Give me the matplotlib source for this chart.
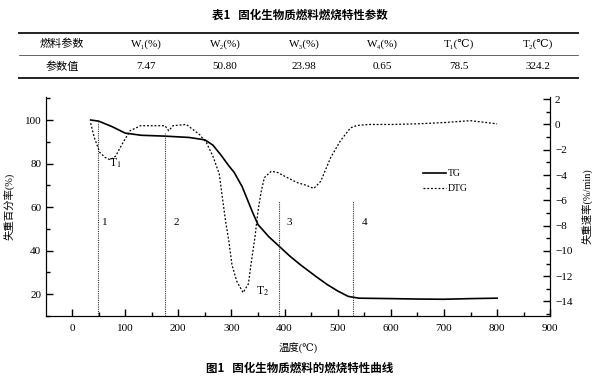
import matplotlib
matplotlib.use("Agg")
import matplotlib.pyplot as plt
from matplotlib.lines import Line2D
from matplotlib.ticker import MultipleLocator

plt.rcParams['font.family'] = ['Liberation Serif', 'DejaVu Serif', 'Noto Sans CJK SC']
plt.rcParams['mathtext.fontset'] = 'stix'

# table 1
tab_title = '表1   固化生物质燃料燃烧特性参数'
tab_head = ['燃料参数', 'W₁(%)', 'W₂(%)', 'W₃(%)', 'W₄(%)', 'T₁(℃)', 'T₂(℃)']
tab_vals = ['参数值', '7.47', '50.80', '23.98', '0.65', '78.5', '324.2']

# TG curve (left axis, %)
temp_tg = [35, 50, 75, 100, 130, 175, 220, 250, 265, 280, 295, 305, 320, 340, 350,
           370, 390, 410, 430, 460, 480, 500, 520, 540, 600, 650, 700, 750, 800]
tg = [100, 99.5, 97, 94, 93, 92.6, 92, 90.9, 88.5, 84, 79, 76, 69.5, 57.5, 52,
      46.5, 42, 37.5, 33.5, 28, 24.5, 21.5, 19, 18.2, 18, 17.8, 17.7, 18.0, 18.2]

# DTG curve (right axis, %/min)
temp_dtg = [35, 42, 52, 62, 72, 82, 95, 109, 129, 150, 175, 182, 190, 215, 240, 253,
            265, 277, 283, 289, 295, 301, 310, 322, 332, 337, 344, 350, 356, 362, 375,
            387, 405, 424, 440, 455, 468, 487, 505, 524, 536, 560, 600, 650, 700, 750, 800]
dtg = [0.1, -1.05, -2.2, -2.6, -2.8, -2.5, -1.5, -0.5, -0.1, -0.1, -0.1, -0.5, -0.1, 0.0,
       -0.8, -1.45, -2.5, -3.9, -5.8, -7.65, -9.2, -11.1, -12.4, -13.3, -12.6, -11.0,
       -9.0, -6.85, -5.3, -4.2, -3.7, -3.8, -4.2, -4.6, -4.8, -5.06, -4.5, -2.6, -1.3,
       -0.27, -0.08, 0.0, 0.0, 0.05, 0.15, 0.3, 0.05]

# stage boundaries
stage_x = [48, 175, 389, 528]
stage_top = [99, 94, 63, 63]
stage_lab = ['1', '2', '3', '4']
stage_lab_x = [61, 196, 408, 550]

fig = plt.figure(figsize=(6, 3.84), dpi=100)

# ---- table
fig.text(0.5, 0.961, tab_title, ha='center', va='center', fontsize=8.3,
         fontweight='bold', family=['Noto Sans CJK SC', 'DejaVu Sans'])
col_x = [62, 146, 225, 304, 382, 459, 538]
for cx, h, v in zip(col_x, tab_head, tab_vals):
    fig.text(cx / 600, 0.885, h, ha='center', va='center', fontsize=8)
    fig.text(cx / 600, 0.826, v, ha='center', va='center', fontsize=8)
for yy, lw in [(0.914, 1.4), (0.857, 0.5), (0.797, 1.4)]:
    fig.add_artist(Line2D([0.032, 0.963], [yy, yy], transform=fig.transFigure,
                          color='#222222', lw=lw))

# ---- chart
ax = fig.add_axes([0.0767, 0.177, 0.8403, 0.570])
ax2 = ax.twinx()

l1, = ax.plot(temp_tg, tg, color='black', lw=1.2, label='TG')
l2, = ax2.plot(temp_dtg, dtg, color='black', lw=0.9, ls=(0, (1.5, 1.5)), label='DTG')

ax.vlines(stage_x, 10, stage_top, colors='#333333', lw=0.8, linestyles=(0, (1, 1)))
for sx, s in zip(stage_lab_x, stage_lab):
    ax.text(sx, 53, s, fontsize=8, ha='center', va='center')
ax.text(81, 80, 'T$_1$', fontsize=8.5, ha='center', va='center')
ax.text(358, 21.5, 'T$_2$', fontsize=8.5, ha='center', va='center')

ax.set_xlim(-49, 900)
ax.set_ylim(10, 110.5)
ax2.set_ylim(-15.15, 2.16)

ax.xaxis.set_major_locator(MultipleLocator(100))
ax.xaxis.set_minor_locator(MultipleLocator(50))
ax.yaxis.set_minor_locator(MultipleLocator(10))
ax.set_yticks([20, 40, 60, 80, 100])
ax2.yaxis.set_major_locator(MultipleLocator(2))
ax2.yaxis.set_minor_locator(MultipleLocator(1))

for a in (ax, ax2):
    a.spines['top'].set_visible(False)
    a.tick_params(which='both', direction='in', labelsize=8, width=1)
    a.tick_params(which='major', length=5)
    a.tick_params(which='minor', length=3)
ax.tick_params(axis='x', pad=6)
ax2.set_yticks(ax2.get_yticks())
ax2.set_yticklabels([('−' + str(abs(int(t)))) if t < 0 else str(int(t))
                     for t in ax2.get_yticks()])
ax2.set_ylim(-15.15, 2.16)

ax.set_xlabel('温度(℃)', fontsize=7.5, labelpad=7)
ax.set_ylabel('失重百分率(%)', fontsize=7.5, labelpad=7)
ax2.set_ylabel('失重速率(%/min)', fontsize=7.5, labelpad=6)

ax.legend(handles=[l1, l2], loc='upper left', bbox_to_anchor=(0.73, 0.71),
          frameon=False, fontsize=7, handlelength=2.4, labelspacing=0.6,
          handletextpad=0.2)

fig.text(0.5, 0.042, '图1   固化生物质燃料的燃烧特性曲线', ha='center', va='center',
         fontsize=8.3, fontweight='bold', family=['Noto Sans CJK SC', 'DejaVu Sans'])

fig.savefig('out.png', dpi=100)
